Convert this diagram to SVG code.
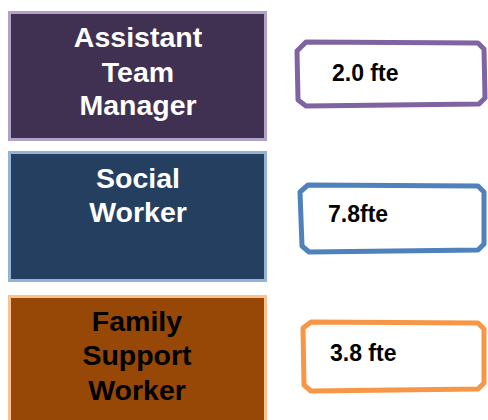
<svg xmlns="http://www.w3.org/2000/svg" width="488" height="420" viewBox="0 0 488 420">
<style>
.t{font-family:"Liberation Sans",Arial,sans-serif;font-weight:bold;font-size:28.5px;text-anchor:middle}
.v{font-family:"Liberation Sans",Arial,sans-serif;font-weight:bold;font-size:23px;fill:#000}
.fb{fill:#fff;stroke-width:5;stroke-linejoin:round}
</style>
<rect width="488" height="420" fill="#fff"/>
<g id="atm">
<rect x="9.5" y="12.5" width="256" height="127" fill="#403152" stroke="#B3A2C7" stroke-width="3"/>
<text class="t" x="138" y="47" fill="#fff">Assistant</text>
<text class="t" x="138" y="82" fill="#fff">Team</text>
<text class="t" x="138" y="115" fill="#fff">Manager</text>
</g>
<g id="sw">
<rect x="9.5" y="152.5" width="256" height="128" fill="#243F60" stroke="#95B3D7" stroke-width="3"/>
<text class="t" x="138" y="188" fill="#fff">Social</text>
<text class="t" x="138" y="222" fill="#fff">Worker</text>
</g>
<g id="fsw">
<rect x="9.5" y="296.5" width="256" height="130" fill="#974806" stroke="#FAC090" stroke-width="3"/>
<text class="t" x="137" y="331" fill="#000">Family</text>
<text class="t" x="137" y="365" fill="#000">Support</text>
<text class="t" x="137" y="400" fill="#000">Worker</text>
</g>
<g id="v1">
<path class="fb" stroke="#8064A2" d="M306,42 L478,43 L484,49 L485,98 L479,104 L306,106 L298,100 L297,51 Z"/>
<text class="v" x="332" y="81">2.0 fte</text>
</g>
<g id="v2">
<path class="fb" stroke="#4F81BD" d="M308,185 L478,186 L484,192 L484,244 L478,250 L309,252 L302,246 L300,192 Z"/>
<text class="v" x="328" y="222">7.8fte</text>
</g>
<g id="v3">
<path class="fb" stroke="#F79646" d="M311,322 L478,323 L484,329 L484,383 L478,389 L311,391 L304,385 L303,328 Z"/>
<text class="v" x="330" y="361">3.8 fte</text>
</g>
<g id="connectors"></g>
</svg>
